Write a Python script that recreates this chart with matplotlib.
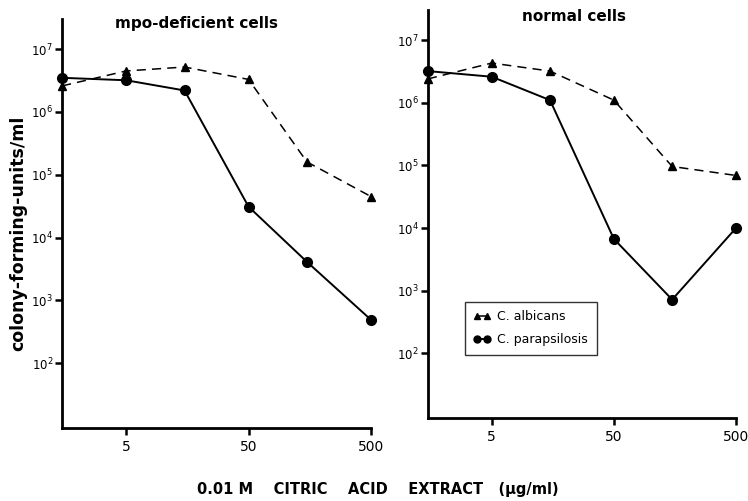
import numpy as np
import matplotlib
matplotlib.use("Agg")
import matplotlib.pyplot as plt
from matplotlib.ticker import FixedLocator, NullLocator

# concentration of citric acid extract (ug/ml)
conc = [1.5, 5, 15, 50, 150, 500]

# colony-forming-units/ml
mpo_albicans = [2.6e6, 4.5e6, 5.2e6, 3.3e6, 1.6e5, 4.5e4]
mpo_parapsilosis = [3.5e6, 3.2e6, 2.2e6, 3.1e4, 4.1e3, 4.9e2]
norm_albicans = [2.4e6, 4.3e6, 3.2e6, 1.1e6, 9.6e4, 6.9e4]
norm_parapsilosis = [3.2e6, 2.6e6, 1.1e6, 6.7e3, 7.2e2, 1.0e4]

xticks = [5, 50, 500]
xticklabels = ["5", "50", "500"]
yticks = [1e2, 1e3, 1e4, 1e5, 1e6, 1e7]
yticklabels = [r"$10^{%d}$" % k for k in range(2, 8)]

plt.rcParams['font.family'] = ['DejaVu Sans']

fig = plt.figure(figsize=(7.48, 5.01), dpi=100)
ax1 = fig.add_axes([0.083, 0.146, 0.413, 0.816])
ax2 = fig.add_axes([0.572, 0.166, 0.412, 0.814])

def style(ax):
    ax.set_xscale('log')
    ax.set_yscale('log')
    ax.set_xlim(1.5, 500)
    ax.set_ylim(10**0.97, 10**7.48)
    for s in ['top', 'right']:
        ax.spines[s].set_visible(False)
    for s in ['left', 'bottom']:
        ax.spines[s].set_linewidth(2)
    ax.xaxis.set_major_locator(FixedLocator(xticks))
    ax.xaxis.set_minor_locator(NullLocator())
    ax.set_xticklabels(xticklabels, fontsize=10)
    ax.yaxis.set_major_locator(FixedLocator(yticks))
    ax.yaxis.set_minor_locator(NullLocator())
    ax.set_yticklabels(yticklabels, fontsize=8.5)
    ax.tick_params(width=1.8, length=5)
    ax.tick_params(axis='y', pad=1.5)

def draw(ax, alb, para):
    ax.plot(conc, alb, color='black', linestyle=(0, (6, 4)), linewidth=1.1,
            marker='^', markersize=5.5, clip_on=False, label='C. albicans')
    ax.plot(conc, para, color='black', linestyle='-', linewidth=1.4,
            marker='o', markersize=7, clip_on=False, label='C. parapsilosis')

draw(ax1, mpo_albicans, mpo_parapsilosis)
draw(ax2, norm_albicans, norm_parapsilosis)
style(ax1)
style(ax2)

fig.text(0.263, 0.953, "mpo-deficient cells", fontsize=11, fontweight='bold',
         ha='center', va='center')
fig.text(0.768, 0.968, "normal cells", fontsize=11, fontweight='bold',
         ha='center', va='center')

fig.text(0.024, 0.535, "colony-forming-units/ml", rotation=90, fontsize=12.5,
         fontweight='bold', ha='center', va='center')
fig.text(0.505, 0.022, "0.01 M    CITRIC    ACID    EXTRACT   (\u00b5g/ml)",
         fontsize=10.5, fontweight='bold', ha='center', va='center')

h, l = ax2.get_legend_handles_labels()
leg = ax2.legend(h, l, loc='upper left', bbox_to_anchor=(0.1, 0.3), numpoints=2,
                 handlelength=1.4, handletextpad=0.5, fontsize=9, frameon=True,
                 fancybox=False, edgecolor='black', borderpad=0.7, labelspacing=0.8)
leg.get_frame().set_linewidth(1.0)
for line in leg.get_lines():
    line.set_markersize(5)

fig.savefig("out.png", dpi=100)
